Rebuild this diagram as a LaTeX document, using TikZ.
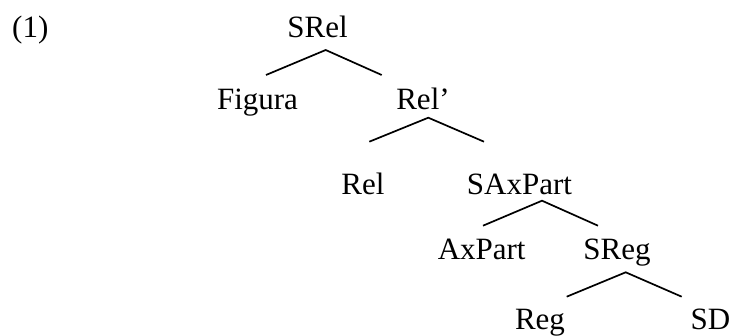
\documentclass[tikz,border=0pt]{standalone}
\usepackage{fontspec}
\setmainfont{Liberation Serif}
\begin{document}
\begin{tikzpicture}[x=1pt,y=-1pt,
  lbl/.style={inner sep=0pt,anchor=base,font=\fontsize{31}{36}\selectfont},
  branch/.style={line width=1.7pt}]
\useasboundingbox (0,0) rectangle (731,336);
\node[lbl,anchor=base west] (ex) at (12,38) {(1)};
\node[lbl] (srel) at (317.5,38) {SRel};
\node[lbl] (fig) at (257.5,110) {Figura};
\node[lbl] (relp) at (423,110) {Rel’};
\node[lbl] (rel) at (363,195) {Rel};
\node[lbl] (sax) at (519.5,195) {SAxPart};
\node[lbl] (axp) at (481.7,260) {AxPart};
\node[lbl] (sreg) at (617,260) {SReg};
\node[lbl] (reg) at (540,330) {Reg};
\node[lbl,anchor=base east] (sd) at (730.5,330) {SD};
% branch points
\coordinate (a1) at (325.7,50);  \coordinate (l1) at (266,75);    \coordinate (r1) at (381.7,75);
\coordinate (a2) at (428.3,117.7); \coordinate (l2) at (369.3,141.7); \coordinate (r2) at (484,141.7);
\coordinate (a3) at (542,200.7); \coordinate (l3) at (483,225.7); \coordinate (r3) at (598,225.7);
\coordinate (a4) at (625.7,272.3); \coordinate (l4) at (566.7,296.7); \coordinate (r4) at (681.7,296.7);
\draw[branch] (l1) -- (a1) -- (r1);
\draw[branch] (l2) -- (a2) -- (r2);
\draw[branch] (l3) -- (a3) -- (r3);
\draw[branch] (l4) -- (a4) -- (r4);
\end{tikzpicture}
\end{document}
